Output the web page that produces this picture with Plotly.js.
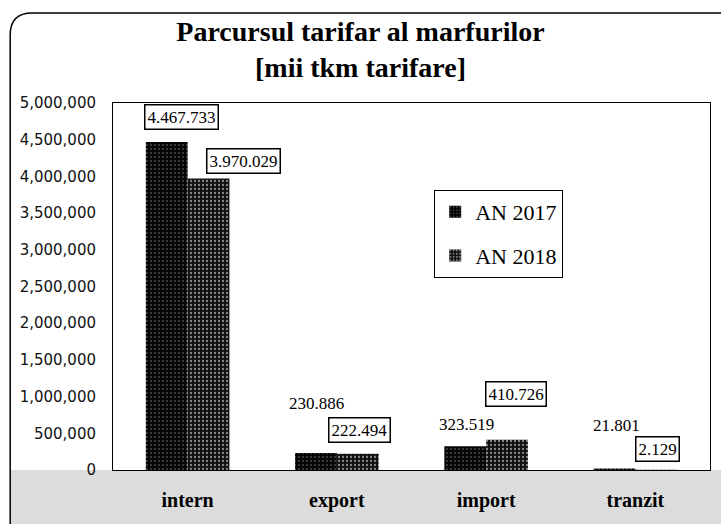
<!DOCTYPE html>
<html>
<head>
<meta charset="utf-8">
<script src="https://cdn.plot.ly/plotly-3.0.1.min.js"></script>
<style>html,body{margin:0;padding:0;background:#fff;}#chart{width:721px;height:524px;}</style>
</head>
<body>
<div id="chart"></div>
<script>
// ---- data ----
const categories = ["intern", "export", "import", "tranzit"];
const seriesNames = ["AN 2017", "AN 2018"];
const values2017 = [4467733, 230886, 323519, 21801];
const values2018 = [3970029, 222494, 410726, 2129];
const labels2017 = ["4.467.733", "230.886", "323.519", "21.801"];
const labels2018 = ["3.970.029", "222.494", "410.726", "2.129"];
const boxed2017 = [true, false, false, false];
const boxed2018 = [true, true, true, true];
const yTickValues = [0, 500000, 1000000, 1500000, 2000000, 2500000, 3000000, 3500000, 4000000, 4500000, 5000000];

// ---- label placement (pixel offsets, layout only) ----
const shiftX2017 = [-6, -20, -20, -19];
const shiftY2017 = [25, 50, 22, 43];
const shiftX2018 = [56, 23, 30, 22];
const shiftY2018 = [18, 24, 46, 21];

const serif = "Liberation Serif, Times New Roman, serif";

const traces = [
  {
    type: "bar", name: seriesNames[0], x: categories, y: values2017,
    legendgroup: "a",
    marker: {color: "#050505", line: {width: 0},
      pattern: {shape: ".", fgcolor: "#ffffff", size: 4, solidity: 0.12, fillmode: "overlay"}},
    hoverinfo: "skip"
  },
  {
    type: "bar", name: seriesNames[1], x: categories, y: values2018,
    legendgroup: "b",
    marker: {color: "#111111", line: {width: 0},
      pattern: {shape: ".", fgcolor: "#ffffff", size: 4, solidity: 0.25, fillmode: "overlay"}},
    hoverinfo: "skip"
  }
];

const annotations = [];
function addLabels(vals, labs, boxed, sx, sy) {
  for (let i = 0; i < categories.length; i++) {
    annotations.push({
      x: categories[i], y: vals[i], xref: "x", yref: "y",
      text: labs[i], showarrow: false,
      xanchor: "center", yanchor: "middle",
      xshift: sx[i], yshift: sy[i],
      font: {family: serif, size: 17, color: "#000"},
      bgcolor: boxed[i] ? "#ffffff" : "rgba(0,0,0,0)",
      bordercolor: boxed[i] ? "#000000" : "rgba(0,0,0,0)",
      borderwidth: boxed[i] ? 1.5 : 0,
      borderpad: 2
    });
  }
}
addLabels(values2017, labels2017, boxed2017, shiftX2017, shiftY2017);
addLabels(values2018, labels2018, boxed2018, shiftX2018, shiftY2018);

const layout = {
  width: 721, height: 524,
  margin: {l: 113, r: 11, t: 103, b: 54},
  paper_bgcolor: "#ffffff",
  plot_bgcolor: "#ffffff",
  title: {
    text: "<b>Parcursul tarifar al marfurilor</b><br><b>[mii tkm tarifare]</b>",
    font: {family: serif, size: 28, color: "#000"},
    x: 0.5, xanchor: "center", y: 0.922, yanchor: "middle", yref: "container"
  },
  barmode: "group",
  bargap: 0.44,
  bargroupgap: 0,
  showlegend: true,
  legend: {
    x: 0.538, y: 0.763, xanchor: "left", yanchor: "top",
    bgcolor: "#ffffff", bordercolor: "#000", borderwidth: 1,
    font: {family: serif, size: 22, color: "#000"},
    traceorder: "grouped", tracegroupgap: 12,
    itemwidth: 30
  },
  xaxis: {
    type: "category",
    showline: true, mirror: true, linecolor: "#000", linewidth: 1,
    ticks: "", showgrid: false, zeroline: false,
    tickfont: {family: serif, size: 20, color: "#000", weight: "bold"},
    ticklabelstandoff: 12
  },
  yaxis: {
    range: [0, 5000000], tickvals: yTickValues, tickformat: ",d",
    showline: true, mirror: true, linecolor: "#000", linewidth: 1,
    ticks: "", showgrid: false, zeroline: false,
    tickfont: {family: "DejaVu Sans, sans-serif", size: 15, color: "#111"},
    ticklabelstandoff: 13
  },
  annotations: annotations,
  shapes: [
    {type: "rect", xref: "paper", yref: "paper", x0: -0.1722, x1: 1.02, y0: -0.16, y1: 0,
     fillcolor: "#dcdcdc", line: {width: 0}, layer: "below"},
    {type: "path", xref: "paper", yref: "paper",
     path: "M -0.1722,-0.16 L -0.1722,1.1853 Q -0.1722,1.2452 -0.1354,1.2452 L 1.02,1.2452",
     line: {color: "#000", width: 1.5}}
  ]
};

Plotly.newPlot("chart", traces, layout, {staticPlot: true, displayModeBar: false});
</script>
</body>
</html>
